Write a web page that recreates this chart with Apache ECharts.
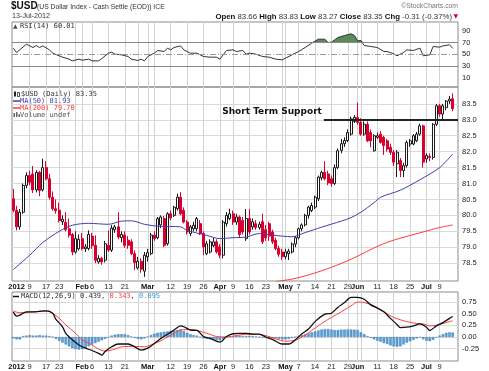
<!DOCTYPE html>
<html><head><meta charset="utf-8">
<script src="https://cdn.jsdelivr.net/npm/echarts@6/dist/echarts.min.js"></script>
<style>html,body{margin:0;padding:0;background:#fff}#c{width:489px;height:371px}</style>
</head><body><div id="c"></div>
<script>
// trading days (index 0 = 30-Dec-2011)
const dates = ['12/30',
 '1/3','1/4','1/5','1/6','1/9','1/10','1/11','1/12','1/13','1/17','1/18','1/19','1/20',
 '1/23','1/24','1/25','1/26','1/27','1/30','1/31',
 '2/1','2/2','2/3','2/6','2/7','2/8','2/9','2/10','2/13','2/14','2/15','2/16','2/17',
 '2/21','2/22','2/23','2/24','2/27','2/28','2/29',
 '3/1','3/2','3/5','3/6','3/7','3/8','3/9','3/12','3/13','3/14','3/15','3/16',
 '3/19','3/20','3/21','3/22','3/23','3/26','3/27','3/28','3/29','3/30',
 '4/2','4/3','4/4','4/5','4/9','4/10','4/11','4/12','4/13','4/16','4/17','4/18','4/19','4/20',
 '4/23','4/24','4/25','4/26','4/27','4/30',
 '5/1','5/2','5/3','5/4','5/7','5/8','5/9','5/10','5/11','5/14','5/15','5/16','5/17','5/18',
 '5/21','5/22','5/23','5/24','5/25','5/29','5/30','5/31',
 '6/1','6/4','6/5','6/6','6/7','6/8','6/11','6/12','6/13','6/14','6/15',
 '6/18','6/19','6/20','6/21','6/22','6/25','6/26','6/27','6/28','6/29',
 '7/2','7/3','7/5','7/6','7/9','7/10','7/11','7/12','7/13'];

const openP = [80.52,80.16,79.64,80.10,80.94,81.25,81.30,80.80,81.35,80.80,81.50,81.15,80.57,80.21,
 80.16,79.80,79.78,79.58,79.40,78.85,78.95,79.27,78.95,78.96,79.35,79.06,78.54,78.65,78.59,
 79.06,78.91,79.55,79.64,79.30,79.38,79.22,79.17,78.80,78.35,78.56,78.25,78.70,78.80,
 79.38,79.30,79.70,79.90,79.11,80.05,80.00,80.21,80.57,80.16,79.79,79.43,79.58,79.58,79.74,
 79.43,78.80,78.85,79.05,79.17,79.01,78.75,79.74,79.90,80.05,79.79,79.95,79.84,79.27,
 79.90,79.64,79.74,79.62,79.80,79.55,79.74,79.48,79.22,78.96,78.85,78.70,78.80,78.85,79.10,
 79.30,79.58,79.70,80.00,80.15,80.26,80.52,81.18,81.35,81.30,81.15,81.00,81.50,82.04,82.25,
 82.35,82.55,82.95,83.07,82.92,82.55,82.86,82.60,82.03,82.45,82.55,82.45,82.34,82.14,
 81.98,81.62,81.72,81.41,81.56,82.24,82.24,82.34,82.55,82.81,81.77,81.85,81.82,82.86,
 83.44,83.18,83.38,83.59,83.66];
const highP = [80.83,80.30,80.20,81.00,81.35,81.40,81.55,81.42,81.40,81.78,81.70,81.30,80.75,80.50,
 80.40,80.00,80.10,79.90,79.45,79.50,79.40,79.45,79.10,79.53,79.45,79.37,78.75,78.70,79.20,
 79.53,79.70,79.70,80.10,79.50,79.50,79.35,79.25,78.90,78.70,78.65,78.85,78.95,79.45,
 79.50,79.95,80.00,79.98,80.10,80.15,80.30,80.68,80.73,80.25,79.85,79.70,79.80,79.95,79.85,
 79.50,79.20,79.25,79.30,79.25,79.10,79.85,80.10,80.21,80.15,80.05,80.00,79.95,80.20,
 80.20,79.90,79.85,79.80,80.05,79.70,79.80,79.55,79.30,79.05,78.95,78.95,78.95,79.15,79.35,
 79.62,79.75,80.05,80.30,80.40,80.62,81.25,81.40,81.70,81.40,81.25,81.60,82.10,82.40,82.45,
 82.70,83.10,83.15,83.54,83.05,82.95,82.95,82.70,82.55,82.60,82.65,82.50,82.40,82.25,
 82.05,82.05,81.80,81.65,82.35,82.40,82.55,82.62,82.88,82.85,81.95,81.95,82.90,
 83.50,83.50,83.50,83.62,83.75,83.83];
const lowP = [80.10,79.53,79.55,80.05,80.85,80.95,80.70,80.72,80.60,80.75,81.10,80.50,80.15,80.05,
 79.78,79.70,79.50,79.30,78.75,78.80,78.90,78.90,78.85,78.90,78.95,78.50,78.48,78.45,78.52,
 78.85,78.85,79.45,79.25,79.15,78.98,78.95,78.75,78.28,78.30,78.20,78.07,78.55,78.75,
 79.20,79.25,79.60,79.00,79.05,79.85,79.95,80.15,80.00,79.75,79.40,79.35,79.50,79.50,79.38,
 78.75,78.75,78.80,79.00,78.80,78.65,78.65,79.65,79.85,79.70,79.70,79.30,79.40,79.20,
 79.40,79.55,79.55,79.55,79.10,79.20,79.20,79.10,78.90,78.70,78.60,78.62,78.60,78.80,79.00,
 79.25,79.50,79.65,79.90,80.10,80.20,80.45,81.10,81.10,80.95,80.90,80.95,81.45,81.95,82.15,
 82.30,82.50,82.90,82.85,82.50,82.50,82.30,82.14,82.00,82.40,82.25,81.90,82.00,81.90,
 81.55,81.20,81.20,81.20,81.50,82.15,82.20,82.30,82.50,81.50,81.65,81.70,81.75,
 82.80,83.10,83.00,83.30,83.50,83.27];
const closeP = [80.16,79.64,80.10,80.94,81.25,81.04,80.80,81.35,80.78,81.50,81.15,80.57,80.21,80.15,
 79.84,79.88,79.55,79.38,78.85,79.27,79.25,78.96,79.01,79.40,79.05,78.59,78.65,78.54,79.11,
 78.91,79.60,79.64,79.32,79.40,79.06,79.06,78.80,78.52,78.56,78.31,78.75,78.83,79.38,
 79.27,79.90,79.95,79.06,80.05,79.92,80.26,80.57,80.05,79.79,79.48,79.64,79.69,79.90,79.43,
 79.01,79.11,79.17,79.17,78.85,78.75,79.79,80.00,80.05,79.79,79.95,79.40,79.48,79.90,
 79.48,79.80,79.62,79.72,79.17,79.30,79.35,79.17,78.96,78.78,78.70,78.85,78.88,79.10,79.30,
 79.58,79.70,80.00,80.26,80.31,80.57,81.20,81.35,81.15,81.02,81.00,81.50,82.03,82.25,82.35,
 82.60,83.03,83.08,82.92,82.55,82.86,82.34,82.34,82.50,82.50,82.29,82.19,82.08,81.98,
 81.67,81.98,81.41,81.56,82.29,82.34,82.50,82.55,82.81,81.67,81.88,81.82,82.86,
 83.44,83.18,83.44,83.59,83.65,83.35];

// moving averages read at sample days (day index into dates)
const ma50Day = [0,5,9,14,18,23,29,33,36,40,44,51,53,59,63,67,71,75,79,85,89,94,100,103,106,110,112,118,124,130,134];
const ma50Val = [78.30,78.75,79.15,79.50,79.69,79.75,79.72,79.82,79.83,79.72,79.66,79.64,79.53,79.37,79.27,79.30,79.32,79.43,79.38,79.33,79.46,79.63,79.82,79.93,80.10,80.40,80.57,80.79,81.12,81.50,81.93];
const ma200Day = [80,85,89,94,100,105,110,115,120,125,130,134];
const ma200Val = [77.92,78.00,78.10,78.26,78.49,78.72,78.98,79.19,79.34,79.48,79.62,79.70];

// RSI(14)
const rsiDay = [0,1,4,5,6,7,8,9,11,12,14,15,17,18,20,21,23,24,26,27,29,30,31,33,35,36,38,39,40,41,43,44,46,47,48,49,51,52,54,56,58,60,62,63,65,67,68,70,71,72,74,76,78,80,82,83,85,87,89,91,93,95,96,97,99,101,103,104,105,106,107,109,111,113,114,116,117,119,120,122,124,125,127,128,130,131,133,134];
const rsiVal = [60.3,52.8,67.1,64.2,61.4,64.8,61.4,64.2,57.4,51.7,47.2,44.9,41.5,38.6,41.5,39.7,41.5,38.6,38.6,42.6,51.7,53.4,50,48.9,46,41.5,39.2,41.5,38.6,46,51.7,56.3,54.6,60.3,57.4,61.4,64.2,57.4,51.7,51.7,46,44.9,44.9,41.5,56.3,57.4,54.6,56.3,50,51.7,50,46,44.9,41.5,40.3,43.2,48.9,54.6,61.4,68.8,75.6,75.6,70,70.5,78.5,81.9,84.8,82,72.8,73.4,64.8,63.1,61.4,54.6,54.6,50.6,47.2,52.8,57.4,56.3,60.3,47.2,48.9,63.1,62,64.2,66,60.0];

// MACD(12,26,9)
const macdDay = [0,1,2,4,6,8,10,12,13,15,16,18,20,22,24,26,27,28,30,32,35,37,39,41,43,45,47,49,51,52,54,56,58,60,63,65,67,69,71,73,75,77,79,82,84,86,88,90,92,95,97,99,101,103,105,107,109,111,113,115,117,118,120,122,124,126,127,129,131,133,134];
const macdVal = [0.54,0.45,0.47,0.54,0.54,0.55,0.56,0.51,0.38,0.22,0.08,-0.06,-0.17,-0.24,-0.29,-0.35,-0.39,-0.31,-0.21,-0.15,-0.15,-0.21,-0.28,-0.24,-0.14,-0.03,0.06,0.15,0.24,0.22,0.15,0.14,0.01,-0.03,-0.11,0.01,0.07,0.08,0.08,0.06,0.06,0,-0.05,-0.15,-0.15,-0.06,0.07,0.17,0.33,0.49,0.51,0.64,0.74,0.85,0.85,0.81,0.69,0.62,0.54,0.40,0.27,0.20,0.21,0.24,0.28,0.21,0.14,0.24,0.31,0.40,0.44];
const signalDay = [0,2,6,10,12,14,16,19,21,24,26,28,31,33,37,40,42,45,48,51,53,56,59,62,65,68,71,74,77,80,83,86,88,91,94,97,100,103,105,107,110,113,116,120,123,125,127,129,131,134];
const signalVal = [0.56,0.52,0.54,0.56,0.51,0.40,0.26,0.08,-0.06,-0.17,-0.26,-0.30,-0.26,-0.21,-0.20,-0.21,-0.17,-0.08,0.04,0.15,0.16,0.14,0.08,0.01,0,0.03,0.06,0.06,0.03,-0.04,-0.09,-0.07,0,0.14,0.29,0.42,0.54,0.67,0.75,0.74,0.67,0.54,0.42,0.33,0.29,0.28,0.24,0.25,0.29,0.35];
const histVal = [-0.03,-0.05,-0.05,0.02,0.03,0.04,0.03,0.03,0.04,0.03,0.03,0.02,0.0,-0.04,-0.08,-0.12,-0.16,-0.2,-0.24,-0.26,
 -0.27,-0.26,-0.24,-0.2,-0.16,-0.13,-0.1,-0.07,-0.04,-0.01,0.03,0.05,0.06,0.06,0.06,0.04,0.01,-0.02,-0.04,-0.05,
 -0.03,0.01,0.04,0.07,0.09,0.1,0.11,0.12,0.13,0.14,0.15,0.16,0.13,0.09,0.06,0.04,0.03,0.0,-0.03,-0.04,
 -0.05,-0.06,-0.06,-0.07,-0.04,-0.01,0.01,0.02,0.03,0.03,0.02,0.02,0.02,0.02,0.01,0.0,-0.01,-0.02,-0.02,-0.02,
 -0.03,-0.04,-0.05,-0.05,-0.04,-0.02,0.0,0.02,0.04,0.06,0.08,0.1,0.12,0.14,0.16,0.17,0.17,0.16,0.15,0.15,
 0.16,0.16,0.16,0.16,0.16,0.15,0.1,0.06,0.02,-0.02,-0.05,-0.08,-0.1,-0.13,-0.15,-0.18,-0.2,-0.21,-0.2,-0.16,
 -0.12,-0.09,-0.06,-0.03,-0.01,-0.05,-0.08,-0.09,-0.06,-0.01,0.03,0.06,0.09,0.1,0.095];

// axis labels
const tickDates = ['1/3','1/9','1/17','1/23','2/1','2/6','2/13','2/21','3/1','3/12','3/19','3/26','4/2','4/9','4/16','4/23','5/1','5/7','5/14','5/21','5/29','6/1','6/11','6/18','6/25','7/2','7/9'];
const tickTexts = ['2012','9','17','23','Feb','6','13','21','Mar','12','19','26','Apr','9','16','23','May','7','14','21','29','Jun','11','18','25','Jul','9'];
const gridDates = ['1/9','1/17','1/23','1/30','2/1','2/6','2/13','2/21','2/27','3/1','3/5','3/12','3/19','3/26','4/2','4/9','4/16','4/23','4/30','5/1','5/7','5/14','5/21','5/29','6/1','6/4','6/11','6/18','6/25','7/2','7/9'];
const priceTicks = [78.5,79.0,79.5,80.0,80.5,81.0,81.5,82.0,82.5,83.0,83.5];
const rsiTicks = [10,30,50,70,90];
const macdTicks = [-0.25,0,0.25,0.5,0.75];
const supportLevel = 83.0, supportStartDate = '5/17';

const monthNames = ['2012','Feb','Mar','Apr','May','Jun','Jul'];
const idx = d => dates.indexOf(d);
const tickIdx = tickDates.map(idx);
const gridIdx = gridDates.map(idx);
const labelAt = {}; tickIdx.forEach((k,i)=>labelAt[k]=tickTexts[i]);
const xMin = -0.4, xMax = 135.6;
const AX = 'Liberation Sans, Arial, sans-serif';
const VF = 'DejaVu Sans, Verdana, sans-serif';
const MF = 'DejaVu Sans Mono, Liberation Mono, monospace';

function xAxisFor(gi, show){
  return {type:'value', gridIndex:gi, min:xMin, max:xMax,
    axisLine:{show:false}, axisTick:{show:false, customValues:gridIdx},
    splitLine:{show:true, lineStyle:{color:'#d2d2d2', width:1}},
    axisLabel:{show:show, customValues:tickIdx, margin:2, fontSize:7.5, fontFamily:AX, color:'#222',
      formatter:v=>{const t=labelAt[Math.round(v)]||''; return monthNames.includes(t)?'{m|'+t+'}':t;},
      rich:{m:{fontWeight:'bold', fontSize:7.5, fontFamily:AX, color:'#111'}}}};
}
function yAxisFor(gi, min, max, ticks, fmt, split){
  return {type:'value', gridIndex:gi, position:'right', min:min, max:max,
    axisLine:{show:false}, axisTick:{show:false, customValues:ticks},
    splitLine:{show:split, lineStyle:{color:'#dadada', width:1}},
    axisLabel:{customValues:ticks, margin:4, fontSize:7.5, fontFamily:AX, color:'#222', formatter:fmt}};
}

const chart = echarts.init(document.getElementById('c'), null, {renderer:'canvas'});
const candles = dates.map((d,i)=>[i, openP[i], closeP[i], lowP[i], highP[i]]);
const pairs = (ds, vs) => ds.map((d,i)=>[d, vs[i]]);
const rsiPairs = pairs(rsiDay, rsiVal);

chart.setOption({
  animation:false, backgroundColor:'#fff',
  grid:[
    {left:12, right:31, top:22, height:65, show:true, borderColor:'#8c8c8c', borderWidth:1},
    {left:12, right:31, top:87, height:194, show:true, borderColor:'#8c8c8c', borderWidth:1},
    {left:12, right:31, top:292, height:69, show:true, borderColor:'#8c8c8c', borderWidth:1}
  ],
  xAxis:[xAxisFor(0,false), xAxisFor(1,true), xAxisFor(2,true)],
  yAxis:[
    yAxisFor(0, -6.1, 105, rsiTicks, v=>String(Math.round(v)), false),
    yAxisFor(1, 77.94, 84.03, priceTicks, v=>v.toFixed(1), true),
    yAxisFor(2, -0.515, 0.966, macdTicks, v=>v.toFixed(2), true)
  ],
  series:[
    {type:'line', xAxisIndex:0, yAxisIndex:0, data:rsiPairs.map(p=>[p[0], Math.max(p[1],70)]),
      symbol:'none', lineStyle:{width:0}, areaStyle:{origin:70, color:'#5b8a5b', opacity:1}, z:2, silent:true},
    {type:'line', xAxisIndex:0, yAxisIndex:0, data:rsiPairs, symbol:'none',
      lineStyle:{color:'#333', width:1}, z:3, silent:true,
      markLine:{symbol:'none', silent:true, label:{show:false},
        data:[
          {yAxis:70, lineStyle:{color:'#888', width:1, type:'solid'}},
          {yAxis:30, lineStyle:{color:'#888', width:1, type:'solid'}},
          {yAxis:50, lineStyle:{color:'#999', width:1, type:[6,2,1,2]}}
        ]}},
    {type:'candlestick', xAxisIndex:1, yAxisIndex:1, data:candles, barWidth:2.5,
      dimensions:['x','open','close','low','high'], encode:{x:0, y:[1,2,3,4]},
      itemStyle:{color:'#ffffff', color0:'#d8002e', borderColor:'#1a1a1a', borderColor0:'#d8002e', borderWidth:1},
      z:3, silent:true,
      markLine:{symbol:'none', silent:true, label:{show:false},
        lineStyle:{color:'#222', width:2, type:'solid'},
        data:[[{coord:[idx(supportStartDate)-0.3, supportLevel]}, {coord:[xMax, supportLevel]}]]}},
    {type:'line', xAxisIndex:1, yAxisIndex:1, data:pairs(ma50Day, ma50Val), symbol:'none', smooth:0.3,
      lineStyle:{color:'#4040b0', width:1}, z:4, silent:true},
    {type:'line', xAxisIndex:1, yAxisIndex:1, data:pairs(ma200Day, ma200Val), symbol:'none', smooth:0.3,
      lineStyle:{color:'#ff3a3a', width:1}, z:4, silent:true},
    {type:'bar', xAxisIndex:2, yAxisIndex:2, data:histVal.map((v,i)=>[i,v]), barWidth:2.5,
      itemStyle:{color:'#5aa3da', borderColor:'#2f6ea6', borderWidth:0.4}, z:2, silent:true},
    {type:'line', xAxisIndex:2, yAxisIndex:2, data:pairs(signalDay, signalVal), symbol:'none', smooth:0.3,
      lineStyle:{color:'#ff4040', width:1}, z:3, silent:true},
    {type:'line', xAxisIndex:2, yAxisIndex:2, data:pairs(macdDay, macdVal), symbol:'none', smooth:0.3,
      lineStyle:{color:'#111', width:1.3}, z:4, silent:true}
  ]
});

const sp = chart.convertToPixel({gridIndex:1}, [idx(supportStartDate)-0.3, supportLevel]);
const T = (text, x, y, font, fill, align, extra) => Object.assign({type:'text', silent:true,
  style:{text, x, y, font, fill:fill||'#222', align:align||'left', verticalAlign:'middle'}}, extra||{});
chart.setOption({graphic:[
  T('$USD', 11, 6.5, 'bold 10px '+AX, '#111'),
  T('(US Dollar Index - Cash Settle (EOD)) ICE', 37, 7, '6.8px '+AX, '#333'),
  T('13-Jul-2012', 12, 16, '7.2px '+AX, '#333'),
  T('\u00A9StockCharts.com', 458, 6.5, '6.8px '+AX, '#777', 'right'),
  {type:'text', silent:true, style:{x:452, y:16.5, align:'right', verticalAlign:'middle', fill:'#333',
    font:'7.8px '+AX,
    text:'{b|Open} 83.66 {b|High} 83.83 {b|Low} 83.27 {b|Close} 83.35 {b|Chg} -0.31 (-0.37%)',
    rich:{b:{font:'bold 7.8px '+AX, fill:'#111'}}}},
  T('\u25BC', 458, 16.5, '6px '+VF, '#d8002e', 'right'),
  // RSI legend
  T('\u25B2', 13, 26, '6px '+VF, '#355f35'),
  T('RSI(14) 60.01', 20, 26, '7px '+MF, '#333'),
  // price legend
  {type:'rect', silent:true, shape:{x:14, y:91.5, width:2, height:5}, style:{fill:'#222'}},
  {type:'rect', silent:true, shape:{x:17.5, y:92.5, width:2, height:4}, style:{fill:'#fff', stroke:'#222', lineWidth:0.8}},
  T('$USD (Daily) 83.35', 21, 94, '7px '+MF, '#333'),
  {type:'line', silent:true, shape:{x1:13, y1:101, x2:20, y2:101}, style:{stroke:'#4040b0', lineWidth:1.5}},
  T('MA(50) 81.93', 20, 101, '7px '+MF, '#4040b0'),
  {type:'line', silent:true, shape:{x1:13, y1:108, x2:20, y2:108}, style:{stroke:'#ff3a3a', lineWidth:1.5}},
  T('MA(200) 79.70', 20, 108, '7px '+MF, '#ff3a3a'),
  {type:'rect', silent:true, shape:{x:13.5, y:113, width:1.5, height:4}, style:{fill:'#666'}},
  {type:'rect', silent:true, shape:{x:16, y:112, width:1.5, height:5}, style:{fill:'#666'}},
  {type:'rect', silent:true, shape:{x:18.5, y:114, width:1.5, height:3}, style:{fill:'#666'}},
  T('Volume undef', 20, 115, '7px '+MF, '#555'),
  // support annotation
  T('Short Term Support', sp[0]-2, sp[1]-8, 'bold 9px '+VF, '#111', 'right'),
  // MACD legend
  {type:'line', silent:true, shape:{x1:13, y1:296.5, x2:19, y2:296.5}, style:{stroke:'#111', lineWidth:1.5}},
  {type:'text', silent:true, style:{x:21, y:296.5, verticalAlign:'middle', font:'7px '+MF, fill:'#333',
    text:'MACD(12,26,9) 0.439, {r|0.343}, {b|0.095}',
    rich:{r:{font:'7px '+MF, fill:'#ff4040'}, b:{font:'7px '+MF, fill:'#3a9ad9'}}}}
]});
</script>
</body></html>
